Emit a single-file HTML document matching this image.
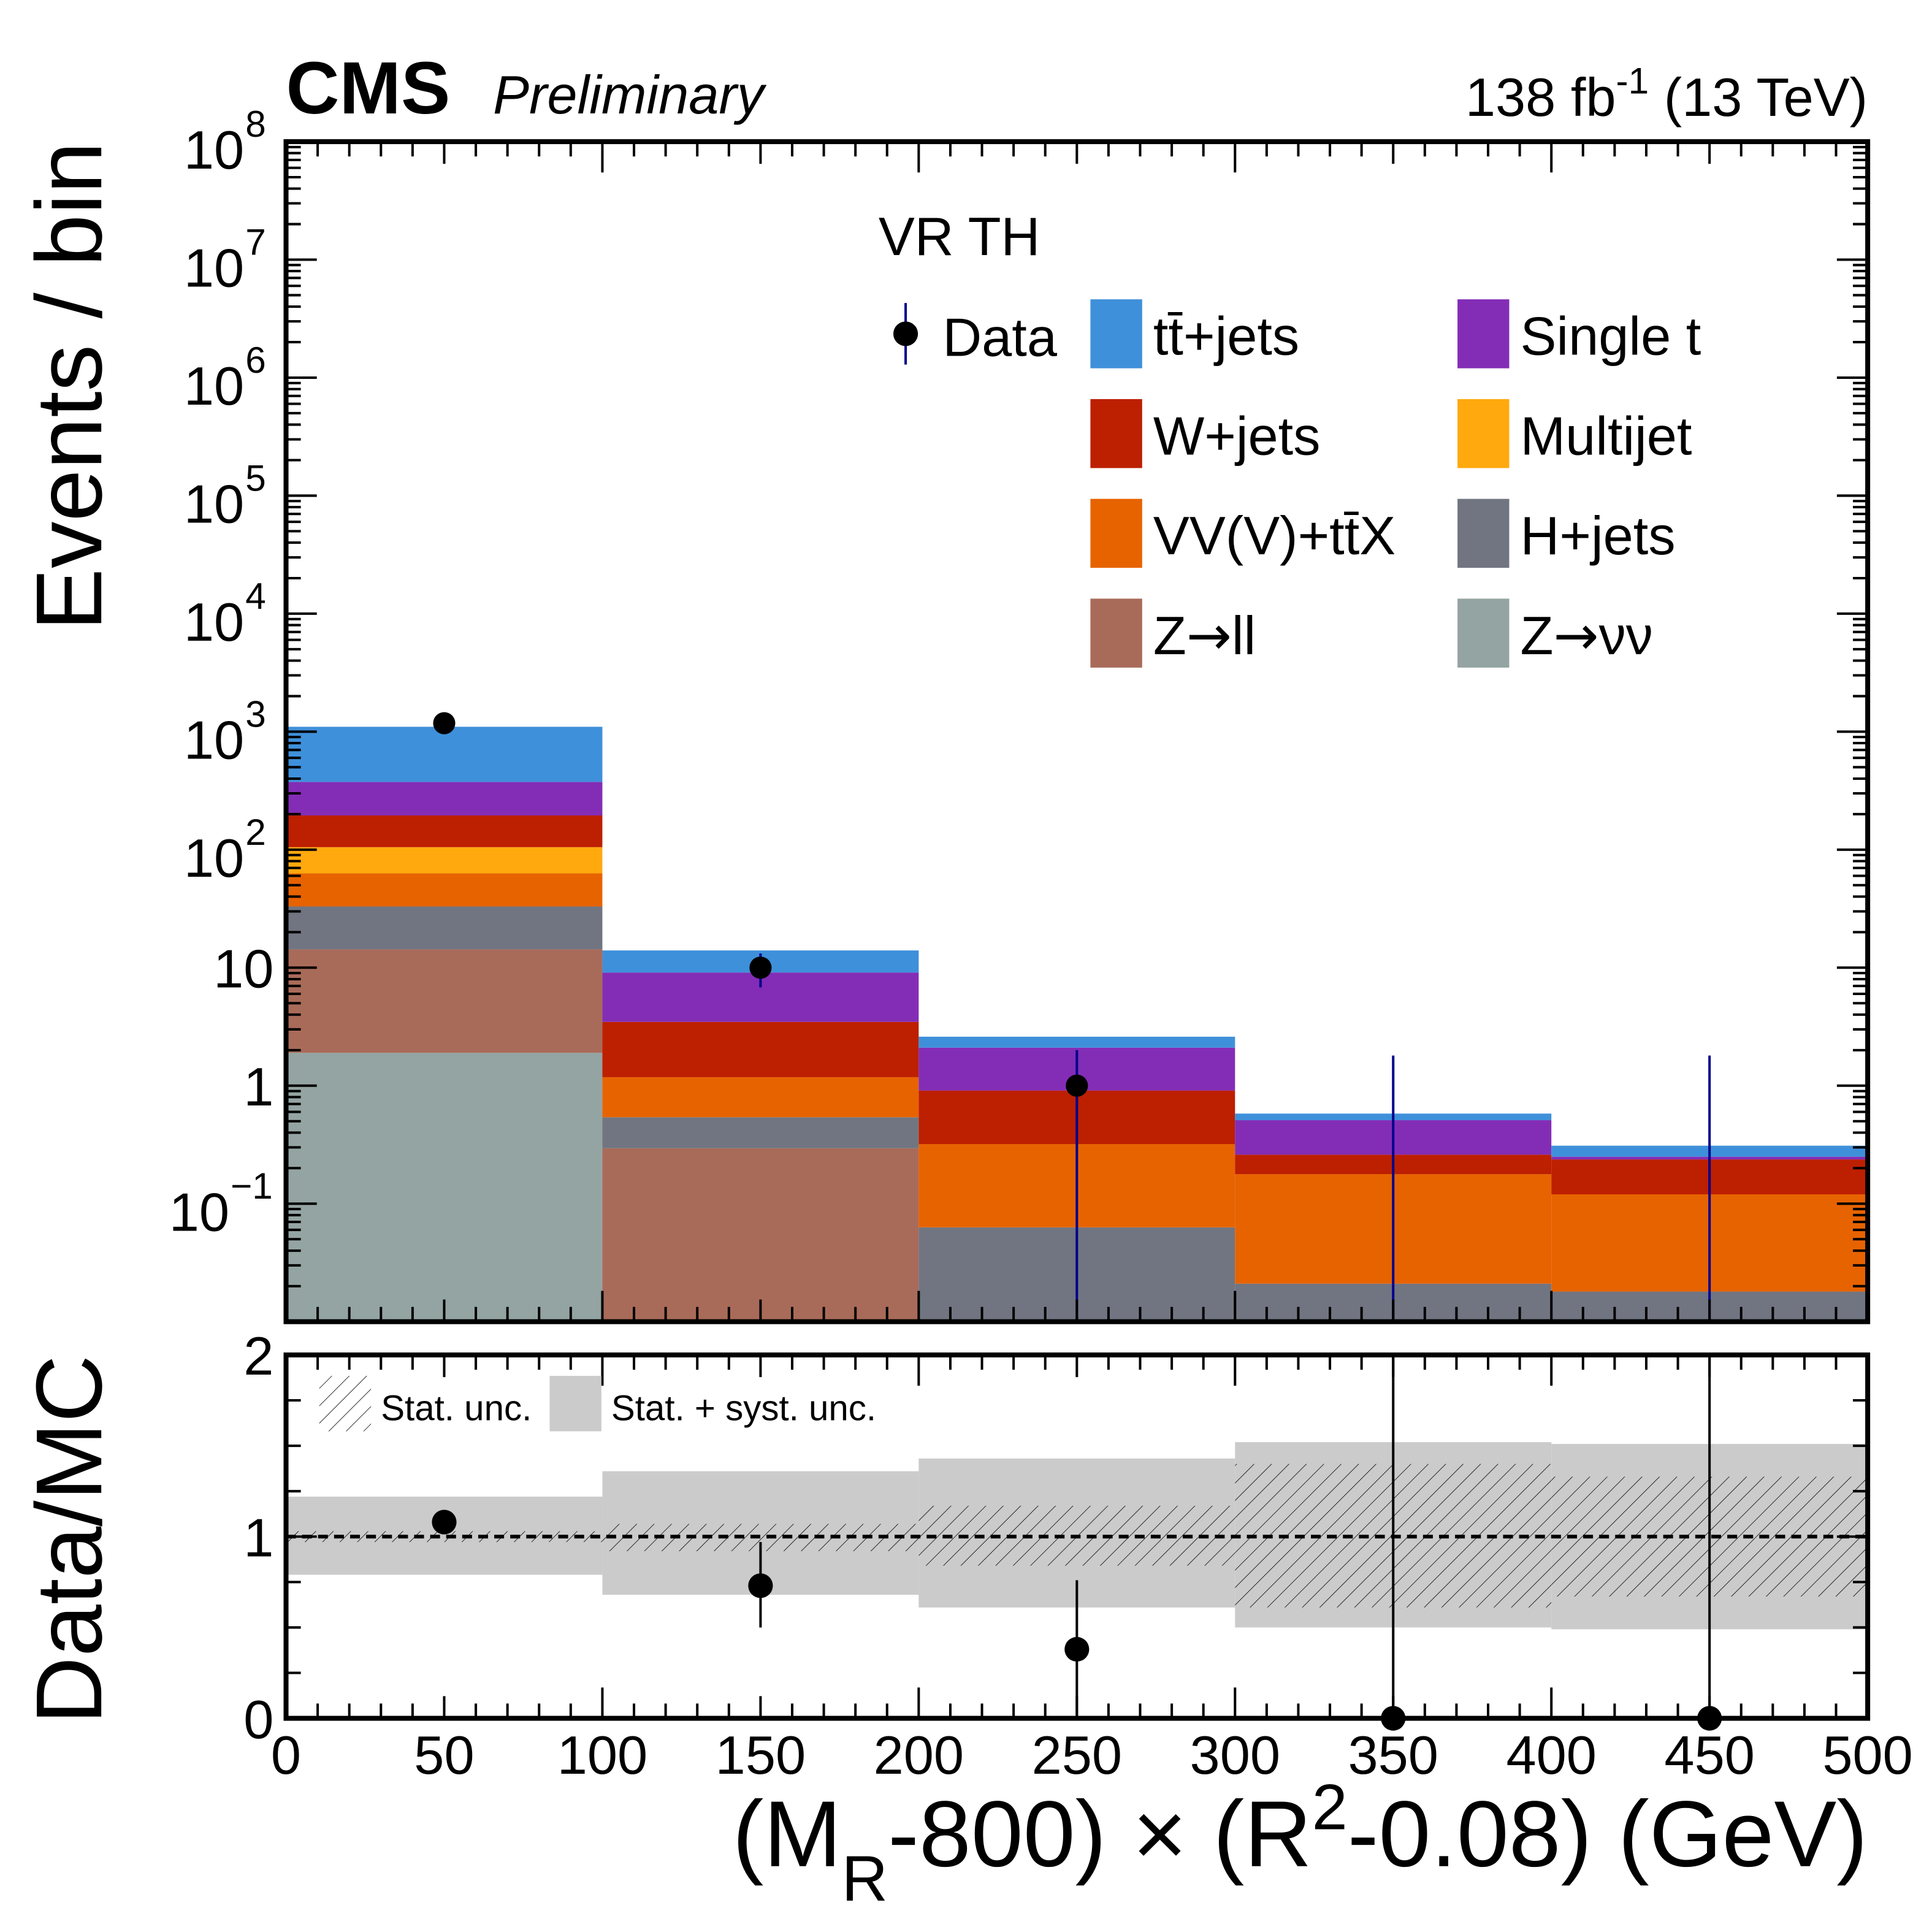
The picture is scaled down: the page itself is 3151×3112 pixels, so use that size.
<!DOCTYPE html>
<html><head><meta charset="utf-8"><style>
html,body{margin:0;padding:0;background:#fff}
svg{display:block}
text{font-family:"Liberation Sans",Arial,sans-serif;fill:#000}
</style></head><body>
<svg id="c" width="3151" height="3112" viewBox="0 0 1568 1549" xmlns="http://www.w3.org/2000/svg">
<defs>
<pattern id="hatch" patternUnits="userSpaceOnUse" width="10" height="10" patternTransform="rotate(45)">
<line x1="0" y1="0" x2="0" y2="10" stroke="#000" stroke-width="0.8"/>
</pattern>
</defs>
<g id="g"></g>
</svg>
<script>
const binEdges=[0,100,200,300,400,500];
const seriesNames=["Z→νν","Z→ll","H+jets","VV(V)+tt̄X","Multijet","W+jets","Single t","tt̄+jets"];
const seriesColors=["#94a4a2","#a96b59","#717581","#e76300","#ffa90e","#bd1f01","#832db6","#3f90da"];
const zvv=[1.9,0,0,0,0];
const zll=[12.4,0.295,0,0,0];
const hjets=[18.7,0.245,0.063,0.021,0.018];
const vv=[30,0.64,0.257,0.157,0.102];
const multijet=[42,0,0,0,0];
const wjets=[90,2.29,0.59,0.082,0.117];
const singlet=[180,5.63,1.19,0.25,0.013];
const ttjets=[725,4.9,0.5,0.07,0.06];
const dataVals=[1180,10,1,0,0];
const dataErrUp=[34,3.2,1.0,1.8,1.8];
const dataErrDn=[34,3.2,0.99,0,0];
const ratioVals=[1.08,0.73,0.38,0,0];
const ratioErrUp=[0.03,0.24,0.38,2,2];
const ratioErrDn=[0.03,0.23,0.38,0,0];
const systUp=[1.22,1.36,1.43,1.52,1.51];
const systDn=[0.79,0.68,0.61,0.50,0.49];
const statUp=[1.03,1.07,1.17,1.40,1.33];
const statDn=[0.97,0.92,0.84,0.61,0.67];
const yTickExp=[-1,0,1,2,3,4,5,6,7,8];
const yTickLabels=["10","1","10","10","10","10","10","10","10","10"];
const xTicks=[0,50,100,150,200,250,300,350,400,450,500];

const NS="http://www.w3.org/2000/svg";
const g=document.getElementById('g');
function el(t,a,txt){const e=document.createElementNS(NS,t);for(const k in a)e.setAttribute(k,a[k]);if(txt!==undefined)e.textContent=txt;g.appendChild(e);return e;}
const X0=232,X1=1516,Y8=115,YB=1073,DEC=95.8;
const x=v=>X0+(v-0)/(500)*(X1-X0);
const y=v=>v<=0?1e6:Y8+(8-Math.log10(v))*DEC;
const RT=1100,RB=1395;
const ry=v=>RB-(v/2)*(RB-RT);
const series=[zvv,zll,hjets,vv,multijet,wjets,singlet,ttjets];
for(let b=0;b<5;b++){
  let cum=0;
  series.forEach((s,i)=>{
    if(s[b]<=0)return;
    const lo=cum;cum+=s[b];
    const top=y(cum);if(top>=YB)return;
    const r=el('rect',{x:x(binEdges[b]),y:top,width:x(binEdges[b+1])-x(binEdges[b]),height:Math.min(YB,y(lo))-top,fill:seriesColors[i]});
    
    
  });
}
for(let b=0;b<5;b++){
  const cx=x((binEdges[b]+binEdges[b+1])/2);
  const v=dataVals[b];
  const top=y(v+dataErrUp[b]);
  const bot=(v-dataErrDn[b])>0.0107?y(v-dataErrDn[b]):YB;
  const l=el('line',{x1:cx,x2:cx,y1:top,y2:Math.min(bot,YB),stroke:'#00008b','stroke-width':2});
  
  
  if(v>0){const c=el('circle',{cx:cx,cy:y(v),r:9,fill:'#000'});
  
  }
}
const f=el('rect',{x:X0,y:Y8,width:X1-X0,height:YB-Y8,fill:'none',stroke:'#000','stroke-width':4});

for(let e=-2;e<8;e++){
  for(let m=1;m<10;m++){
    const v=m*Math.pow(10,e);const yy=y(v);if(yy>YB||yy<Y8)continue;
    const L=m===1?25:12;
    el('line',{x1:X0,x2:X0+L,y1:yy,y2:yy,stroke:'#000','stroke-width':2});
    el('line',{x1:X1,x2:X1-L,y1:yy,y2:yy,stroke:'#000','stroke-width':2});
  }
}
el('line',{x1:X0,x2:X0+25,y1:y(1e8),y2:y(1e8),stroke:'#000','stroke-width':2});
yTickExp.forEach((e,i)=>{
  const yy=y(Math.pow(10,e));
  let t;
  if(e===0||e===1){t=el('text',{x:222,y:yy+16,'font-size':44,'text-anchor':'end'},yTickLabels[i]);}
  else{
    const sup=e===-1?'−1':String(e);
    t=el('text',{x:e===-1?186:198,y:yy+22,'font-size':44,'text-anchor':'end'},yTickLabels[i]);
    const s=el('text',{x:e===-1?187:199,y:yy-4,'font-size':30},sup);
    
  }
  
});
for(let v=0;v<=500;v+=10){
  const L=v%100===0?25:(v%50===0?18:12);const xx=x(v);
  [[Y8,1],[YB,-1],[RT,1],[RB,-1]].forEach(([yy,d])=>el('line',{x1:xx,x2:xx,y1:yy,y2:yy+d*L,stroke:'#000','stroke-width':2}));
}
for(let b=0;b<5;b++){
  const xa=x(binEdges[b]),w=x(binEdges[b+1])-xa;
  const s=el('rect',{x:xa,y:ry(systUp[b]),width:w,height:ry(systDn[b])-ry(systUp[b]),fill:'#cbcbcb'});
  
  const h=el('rect',{x:xa,y:ry(statUp[b]),width:w,height:ry(statDn[b])-ry(statUp[b]),fill:'url(#hatch)'});
  
}
const ul=el('line',{x1:X0,x2:X1,y1:ry(1),y2:ry(1),stroke:'#000','stroke-width':3,'stroke-dasharray':'8,5'});

for(let b=0;b<5;b++){
  const cx=x((binEdges[b]+binEdges[b+1])/2);
  const l=el('line',{x1:cx,x2:cx,y1:Math.max(RT,ry(ratioVals[b]+ratioErrUp[b])),y2:ry(ratioVals[b]-ratioErrDn[b]),stroke:'#000','stroke-width':2});
  
  const c=el('circle',{cx:cx,cy:ry(ratioVals[b]),r:10,fill:'#000'});
  
}
const rf=el('rect',{x:X0,y:RT,width:X1-X0,height:RB-RT,fill:'none',stroke:'#000','stroke-width':4});

for(let v=0;v<=2.001;v+=0.25){
  const L=Math.abs(v-Math.round(v))<1e-6?25:12;const yy=ry(v);
  el('line',{x1:X0,x2:X0+L,y1:yy,y2:yy,stroke:'#000','stroke-width':2});
  el('line',{x1:X1,x2:X1-L,y1:yy,y2:yy,stroke:'#000','stroke-width':2});
}
["0","1","2"].forEach((t,i)=>{const e=el('text',{x:222,y:ry(i)+16,'font-size':44,'text-anchor':'end'},t);
});
xTicks.forEach(v=>{const e=el('text',{x:x(v),y:1440,'font-size':44,'text-anchor':'middle'},String(v));
});
const hb=el('rect',{x:259,y:1117,width:42,height:45,fill:'url(#hatch)'});
const sb=el('rect',{x:446,y:1117,width:42,height:45,fill:'#cbcbcb'});
let t1=el('text',{x:309,y:1153,'font-size':29},'Stat. unc.');
let t2=el('text',{x:496,y:1153,'font-size':29},'Stat. + syst. unc.');
let vr=el('text',{x:713,y:207,'font-size':44},'VR TH');
const dl=el('line',{x1:735,x2:735,y1:246,y2:296,stroke:'#00008b','stroke-width':2});
const dc=el('circle',{cx:735,cy:271,r:10,fill:'#000'});
const dt=el('text',{x:765,y:289,'font-size':44},'Data');
const legOrder=[[7,885,243],[6,1183,243],[5,885,324],[4,1183,324],[3,885,405],[2,1183,405],[1,885,486],[0,1183,486]];
legOrder.forEach(([i,lx,ly])=>{
  const r=el('rect',{x:lx,y:ly,width:42,height:56,fill:seriesColors[i]});
  
  const t=el('text',{x:lx+51,y:ly+45,'font-size':44});
  
  const nm=seriesNames[i];
  if(nm.indexOf('→')>=0){const p=nm.split('→');t.innerHTML=p[0]+'<tspan font-family="DejaVu Sans" font-size="44">→</tspan>'+p[1];}
  else t.textContent=nm;
});
let cms=el('text',{x:232,y:92,'font-size':60,'font-weight':'bold'},'CMS');
let pre=el('text',{x:400,y:92,'font-size':44,'font-style':'italic'},'Preliminary');
let lumi=el('text',{x:1516,y:94,'font-size':44,'text-anchor':'end'});
lumi.innerHTML='138 fb<tspan dy="-18" font-size="30">-1</tspan><tspan dy="18"> (13 TeV)</tspan>';
let yt=el('text',{x:0,y:0,'font-size':76,'text-anchor':'end',transform:'translate(82,115) rotate(-90)'},'Events / bin');
let rt=el('text',{x:0,y:0,'font-size':76,'text-anchor':'end',transform:'translate(82,1100) rotate(-90)'},'Data/MC');
let xt=el('text',{x:1516,y:1515,'font-size':76,'text-anchor':'end'});
xt.innerHTML='(M<tspan dy="28" font-size="52">R</tspan><tspan dy="-28">-800)</tspan><tspan> × (R</tspan><tspan dy="-30" font-size="52">2</tspan><tspan dy="30">-0.08) (GeV)</tspan>';
</script>
</body></html>
